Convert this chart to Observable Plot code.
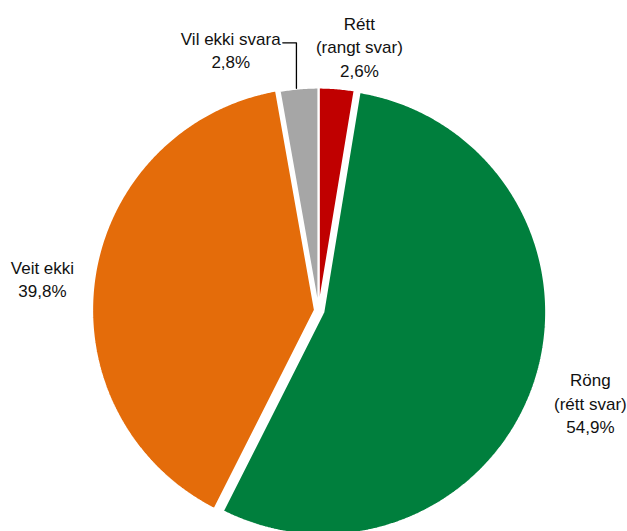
<!DOCTYPE html>
<html>
<head>
<meta charset="utf-8">
<script src="https://cdn.jsdelivr.net/npm/d3@7"></script>
<script src="https://cdn.jsdelivr.net/npm/@observablehq/plot@0.6"></script>
<style>
  html, body { margin: 0; padding: 0; background: #fff; }
  #chart svg { display: block; }
</style>
</head>
<body>
<div id="chart"></div>
<script>
// ---- data ----
const categories = ["Rétt (rangt svar)", "Röng (rétt svar)", "Veit ekki", "Vil ekki svara"];
const labelNames = ["Rétt\n(rangt svar)", "Röng\n(rétt svar)", "Veit ekki", "Vil ekki svara"];
const values = [2.6, 54.9, 39.8, 2.8];
const colors = ["#C00000", "#007F3D", "#E46C0A", "#A6A6A6"];

// ---- layout ----
const W = 627, H = 531;
const CX = 318, CY = 310;   // pie centre in pixels
const R = 223;              // pie radius
const explode = [0, 5, 3.5, 0];          // slice offsets along bisector
const labelDA = [4.1, 0.6, -1.6, -13.5];  // label angle tweak (deg)
const labelDR = [45, 64, 55, 53];         // label distance beyond radius

const fmt = v => v.toFixed(1).replace(".", ",") + "%";
const rad = Math.PI / 180;
const polar = (a, r) => ({x: r * Math.sin(a), y: -r * Math.cos(a)});

const arcs = d3.pie().sort(null).value(d => d)(values);

const slices = arcs.map((a, i) => {
  const mid = (a.startAngle + a.endAngle) / 2;
  const o = polar(mid, explode[i]);
  const pts = [{x: o.x, y: o.y}];
  const n = Math.max(4, Math.ceil((a.endAngle - a.startAngle) / (0.4 * rad)));
  for (let k = 0; k <= n; k++) {
    const t = a.startAngle + (a.endAngle - a.startAngle) * k / n;
    const p = polar(t, R);
    pts.push({x: p.x + o.x, y: p.y + o.y});
  }
  pts.push({x: o.x, y: o.y});
  return {pts, color: colors[i]};
});

const labels = arcs.map((a, i) => {
  const mid = (a.startAngle + a.endAngle) / 2;
  const p = polar(mid + labelDA[i] * rad, R + labelDR[i]);
  return {x: p.x, y: p.y, text: labelNames[i] + "\n" + fmt(values[i]), mid};
});

// leader line for "Vil ekki svara"
const g = labels[3];
const tip = polar(g.mid, R);
const leader = [
  {x: g.x + 52, y: g.y - 6},
  {x: tip.x - 2.5, y: g.y - 6},
  {x: tip.x - 2.5, y: tip.y}
];

const chart = Plot.plot({
  width: W,
  height: H,
  margin: 0,
  x: {type: "linear", domain: [-CX, W - CX], range: [0, W], axis: null},
  y: {type: "linear", domain: [-CY, H - CY], range: [0, H], axis: null},
  style: {fontFamily: "'Liberation Sans', Arial, sans-serif", background: "#fff"},
  marks: [
    ...slices.map(s => Plot.line(s.pts, {
      x: "x", y: "y", fill: s.color, stroke: "white", strokeWidth: 2.2,
      strokeLinejoin: "miter", curve: "linear"
    })),
    Plot.line(leader, {x: "x", y: "y", stroke: "#000", strokeWidth: 1.3}),
    Plot.text(labels, {
      x: "x", y: "y", text: "text", fontSize: 17, lineHeight: 1.38,
      fill: "#111", textAnchor: "middle", lineAnchor: "middle"
    })
  ]
});
document.getElementById("chart").appendChild(chart);
</script>
</body>
</html>
